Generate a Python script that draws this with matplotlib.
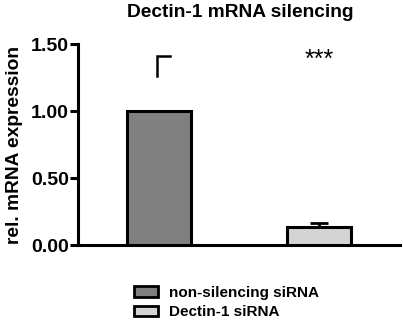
import matplotlib.pyplot as plt
from matplotlib.patches import Patch

plt.rcParams['font.family'] = ['Liberation Sans', 'DejaVu Sans']
plt.rcParams['font.weight'] = 'bold'

# datos
groups = ["non-silencing siRNA", "Dectin-1 siRNA"]
means = [1.00, 0.134]
err_up = [0.0, 0.03]
colors = ["#808080", "#d4d4d4"]
yticks = [0.0, 0.5, 1.0, 1.5]

fig = plt.figure(figsize=(4.03, 3.25), dpi=100)
ax = fig.add_axes([0.1935, 0.246, 0.799, 0.6185])

x = range(len(groups))
ax.bar(x, means, width=0.4, color=colors, edgecolor="black", linewidth=2.2, zorder=3)
ax.errorbar([1], [means[1]], yerr=[[0], [err_up[1]]], fmt="none", ecolor="black",
            elinewidth=2, capsize=6.5, capthick=2, zorder=2)

# marca sobre la primera barra
ax.plot([-0.012, -0.012, 0.07], [1.26, 1.41, 1.41], color="black", lw=1.8, solid_joinstyle="miter")
ax.text(1, 1.38, "***", ha="center", va="center", fontsize=18, fontweight="normal")

ax.set_xlim(-0.506, 1.506)
ax.set_ylim(0, 1.5)
ax.set_yticks(yticks)
ax.set_yticklabels([f"{v:.2f}" for v in yticks], fontsize=14, fontweight="bold")
ax.set_xticks([])
ax.spines["top"].set_visible(False)
ax.spines["right"].set_visible(False)
ax.spines["left"].set_linewidth(2.2)
ax.spines["bottom"].set_linewidth(2.2)
ax.tick_params(axis="y", width=2.2, length=5.5, pad=1)
ax.set_ylabel("rel. mRNA expression", fontsize=13.8, fontweight="bold", labelpad=6)

fig.text(0.595, 0.962, "Dectin-1 mRNA silencing", ha="center", va="center",
         fontsize=13.8, fontweight="bold")

handles = [Patch(facecolor=c, edgecolor="black", linewidth=2) for c in colors]
fig.legend(handles, groups, loc="upper left", bbox_to_anchor=(0.333, 0.12),
           frameon=False, fontsize=11, handlelength=1.55, handleheight=0.72,
           handletextpad=0.7, labelspacing=0.35, borderpad=0, borderaxespad=0)

fig.savefig("out.png", dpi=100)
